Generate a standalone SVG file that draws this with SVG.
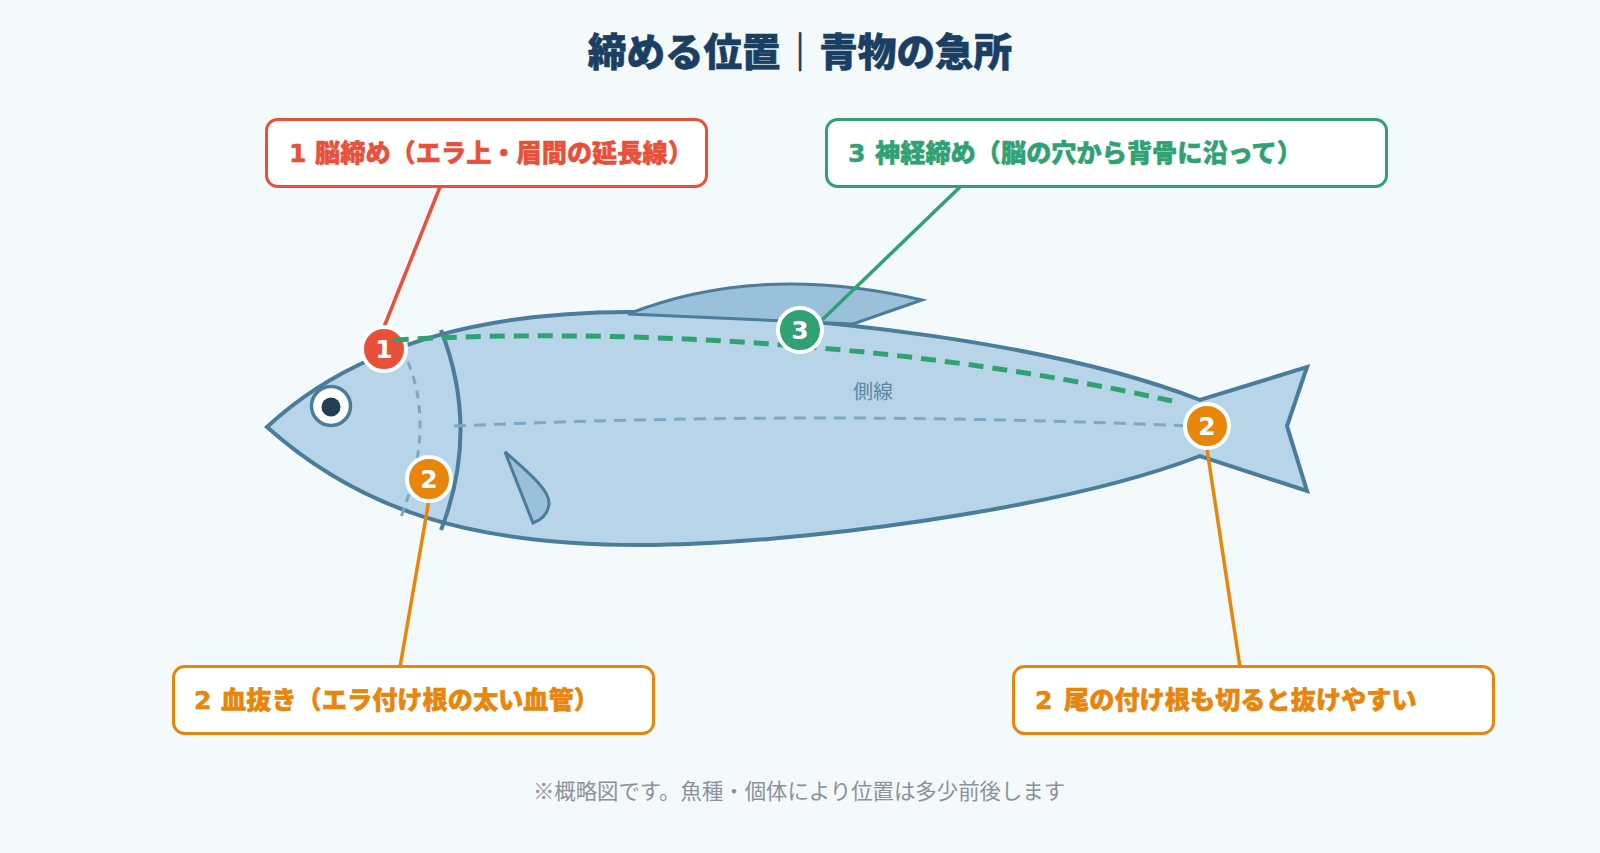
<svg xmlns="http://www.w3.org/2000/svg" width="1600" height="853" viewBox="0 0 1600 853">
<style>
text{font-family:"Noto Sans CJK JP","Noto Sans",sans-serif}
.fish{fill:#b8d4e8;stroke:#4a7c9b;stroke-width:4;stroke-linejoin:miter}
.fin{fill:#9bc0d9;stroke:#4a7c9b;stroke-width:3;stroke-linejoin:miter}
.lbl{font-size:25.200px;font-weight:900;stroke-width:.5}
.dig{font-family:"DejaVu Sans",sans-serif;font-weight:700}
.box{fill:#fff;stroke-width:3}
.num{font-size:25px;font-weight:700;fill:#fff;text-anchor:middle;font-family:"DejaVu Sans",sans-serif}
.bad{stroke:#fff;stroke-width:4}
</style>
<rect width="1600" height="853" fill="#f4f9fc"/>
<text x="800" y="66" text-anchor="middle" font-size="38.6" font-weight="900" fill="#1a3f62" stroke="#1a3f62" stroke-width=".6">締める位置｜青物の急所</text>

<g id="fish">
<path class="fish" d="M267 427 C350 350 470 312 630 312 C820 314 1060 345 1200 400 L1307 367 L1287 426 L1307 491 L1200 456 C1060 510 790 545 640 545 C470 545 360 510 267 427 Z"/>
<path class="fin" d="M628 314 Q760 262 922 300 L853 324 Z"/>
<path class="fin" d="M505 452 C535 478 550 492 549 504 C548 514 541 520 533 523 Z"/>
<path d="M441 330 Q480 430 441 530" fill="none" stroke="#4a7c9b" stroke-width="4"/>
<path d="M408 362 Q436 430 399 522" fill="none" stroke="#7ba8c4" stroke-width="3" stroke-dasharray="8 7"/>
<path d="M454 426 Q820 410 1190 426" fill="none" stroke="#7ba8c4" stroke-width="3" stroke-dasharray="12 8"/>
<circle cx="331" cy="406" r="19.500" fill="#fff" stroke="#4a7c9b" stroke-width="3.500"/>
<circle cx="331" cy="407" r="9.500" fill="#223f52"/>
<text x="873" y="399" text-anchor="middle" font-size="20" fill="#5b87a5">側線</text>
</g>

<g id="connectors" fill="none" stroke-width="3.500">
<path d="M440 187 L384 327" stroke="#e8503a"/>
<path d="M960 187 L822 320" stroke="#2fa172"/>
<path d="M429 500 L400 667" stroke="#e8850a"/>
<path d="M1207 449 L1240 667" stroke="#e8850a"/>
</g>

<g id="mark-1">
<circle class="bad" cx="384" cy="349" r="22" fill="#e8503a"/>
<text class="num" x="384" y="358">1</text>
</g>
<path id="spine" d="M394 340 C600 328 900 340 1172 401" fill="none" stroke="#2fa172" stroke-width="5" stroke-dasharray="15 9"/>
<g id="mark-2a">
<circle class="bad" cx="429" cy="479" r="22" fill="#e8850a"/>
<text class="num" x="429" y="488">2</text>
</g>
<g id="mark-2b">
<circle class="bad" cx="1207" cy="426" r="22" fill="#e8850a"/>
<text class="num" x="1207" y="435">2</text>
</g>
<g id="mark-3">
<circle class="bad" cx="800" cy="330" r="22" fill="#2fa172"/>
<text class="num" x="800" y="339">3</text>
</g>

<g id="callout-1">
<rect class="box" x="266.500" y="119.500" width="440" height="67" rx="11" stroke="#e8503a"/>
<text class="lbl" y="161.500" fill="#e8503a" stroke="#e8503a"><tspan class="dig" x="289">1 </tspan><tspan x="315">脳締め（エラ上・眉間の延長線）</tspan></text>
</g>
<g id="callout-3">
<rect class="box" x="826.500" y="119.500" width="560" height="67" rx="11" stroke="#2fa172"/>
<text class="lbl" y="161.500" fill="#2fa172" stroke="#2fa172"><tspan class="dig" x="848">3 </tspan><tspan x="875">神経締め（脳の穴から背骨に沿って）</tspan></text>
</g>
<g id="callout-2a">
<rect class="box" x="173.500" y="666.500" width="480" height="67" rx="11" stroke="#e8850a"/>
<text class="lbl" y="708.500" fill="#e8850a" stroke="#e8850a"><tspan class="dig" x="194">2 </tspan><tspan x="221">血抜き（エラ付け根の太い血管）</tspan></text>
</g>
<g id="callout-2b">
<rect class="box" x="1013.500" y="666.500" width="480" height="67" rx="11" stroke="#e8850a"/>
<text class="lbl" y="708.500" fill="#e8850a" stroke="#e8850a"><tspan class="dig" x="1035">2 </tspan><tspan x="1064">尾の付け根も切ると抜けやすい</tspan></text>
</g>
<text x="799" y="799" text-anchor="middle" font-size="21.400" fill="#8a929c">※概略図です。魚種・個体により位置は多少前後します</text>
</svg>
